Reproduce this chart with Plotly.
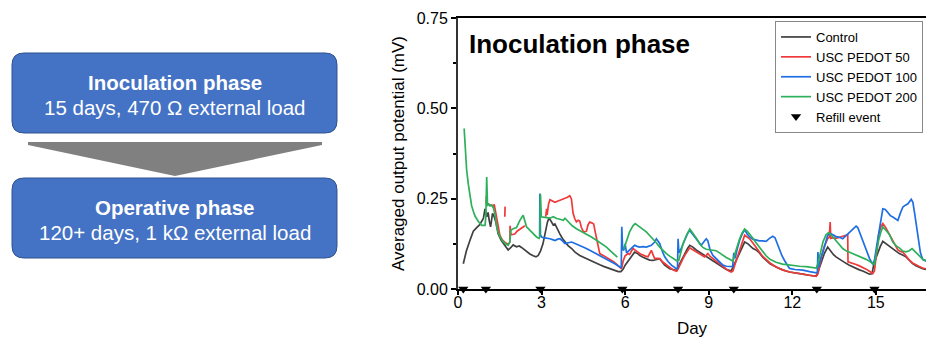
import plotly.graph_objects as go

# ---------------- data ----------------
control_day = [0.19,0.30,0.43,0.55,0.67,0.78,0.91,0.97,1.03,1.08,1.12,1.17,1.24,1.30,1.36,1.44,1.55,1.62,1.70,1.80,1.90,1.98,2.10,2.20,2.28,2.40,2.50,2.58,2.70,2.80,2.88,2.96,3.05,3.12,3.21,3.27,3.33,3.42,3.48,3.54,3.66,3.75,3.84,3.95,4.08,4.20,4.37,4.55,4.73,4.90,5.09,5.25,5.45,5.60,5.75,5.85,5.93,6.00,6.16,6.34,6.45,6.52,6.64,6.76,6.88,7.00,7.12,7.24,7.33,7.42,7.60,7.75,7.86,7.96,8.05,8.14,8.24,8.32,8.43,8.55,8.67,8.80,8.91,9.05,9.15,9.27,9.39,9.51,9.63,9.81,9.93,10.02,10.11,10.20,10.29,10.41,10.50,10.59,10.70,10.82,10.94,11.06,11.20,11.42,11.65,11.90,12.15,12.38,12.60,12.80,12.88,12.96,13.04,13.15,13.27,13.33,13.39,13.48,13.57,13.70,13.81,13.93,14.05,14.17,14.29,14.41,14.53,14.65,14.77,14.86,14.92,15.00,15.07,15.16,15.25,15.34,15.43,15.52,15.61,15.72,15.84,15.96,16.08,16.20,16.32,16.44,16.56,16.68,16.80]
control_val = [0.070,0.105,0.135,0.160,0.170,0.178,0.195,0.222,0.200,0.212,0.190,0.172,0.209,0.200,0.185,0.153,0.135,0.128,0.118,0.108,0.115,0.122,0.117,0.119,0.115,0.107,0.102,0.097,0.092,0.089,0.093,0.105,0.125,0.153,0.185,0.197,0.190,0.177,0.180,0.170,0.152,0.140,0.130,0.120,0.112,0.102,0.093,0.086,0.079,0.073,0.067,0.062,0.057,0.052,0.048,0.048,0.055,0.066,0.084,0.102,0.098,0.093,0.088,0.084,0.080,0.079,0.082,0.084,0.075,0.066,0.056,0.052,0.051,0.070,0.085,0.098,0.112,0.121,0.116,0.108,0.102,0.095,0.090,0.085,0.079,0.072,0.066,0.060,0.054,0.050,0.070,0.085,0.098,0.115,0.130,0.125,0.118,0.112,0.108,0.100,0.088,0.079,0.070,0.061,0.053,0.047,0.043,0.041,0.038,0.036,0.038,0.055,0.070,0.098,0.116,0.110,0.102,0.095,0.089,0.082,0.075,0.071,0.066,0.061,0.056,0.053,0.050,0.046,0.041,0.042,0.066,0.085,0.102,0.118,0.132,0.127,0.121,0.116,0.112,0.105,0.098,0.094,0.089,0.080,0.070,0.064,0.059,0.056,0.054]

pedot50_day = [1.01,1.02,1.05,1.09,1.15,1.21,1.26,1.30,1.36,1.44,1.50,1.57,1.60,1.70,1.80,1.85,None,1.68,1.69,None,1.86,1.87,1.90,1.98,2.04,2.12,2.22,2.34,2.40,None,3.15,3.18,3.20,3.25,3.30,3.39,3.48,3.57,3.66,3.75,3.84,3.93,4.01,4.07,4.13,4.19,4.25,4.31,4.37,4.43,4.49,4.55,4.61,4.67,4.73,4.80,4.87,4.92,4.97,5.03,5.09,5.21,5.33,5.45,5.57,5.69,5.80,5.87,5.93,6.00,6.10,6.16,6.28,6.37,6.46,6.55,6.64,6.73,6.82,6.88,6.94,7.00,7.06,7.15,7.24,7.33,7.42,7.54,7.66,7.75,7.84,7.90,7.96,8.05,8.14,8.24,8.32,8.40,8.49,8.58,8.67,8.76,8.85,8.91,8.97,9.05,9.15,9.27,9.39,9.51,9.63,9.72,9.81,9.87,9.93,9.99,10.08,10.17,10.24,10.29,10.38,10.47,10.58,10.70,10.82,10.94,11.06,11.20,11.42,11.65,11.90,12.15,12.38,12.60,12.86,12.92,13.00,13.08,13.15,13.27,13.33,13.36,13.38,13.45,13.57,13.69,13.81,13.90,13.99,14.00,14.05,14.17,14.29,14.41,14.53,14.65,14.77,14.89,14.95,15.02,15.10,15.18,15.25,15.34,15.43,15.52,15.61,15.70,15.79,15.88,15.97,16.08,16.20,16.32,16.44,16.56,16.68,16.80]
pedot50_val = [0.235,0.257,0.236,0.236,0.232,0.232,0.228,0.234,0.209,0.172,0.150,0.139,0.135,0.128,0.124,0.128,None,0.200,0.228,None,0.128,0.175,0.150,0.150,0.152,0.160,0.165,0.172,0.175,None,0.200,0.222,0.205,0.235,0.247,0.243,0.240,0.243,0.245,0.248,0.251,0.254,0.258,0.250,0.210,0.195,0.186,0.190,0.188,0.170,0.160,0.158,0.160,0.178,0.185,0.183,0.180,0.160,0.140,0.115,0.098,0.093,0.088,0.083,0.076,0.069,0.060,0.056,0.078,0.092,0.098,0.096,0.112,0.106,0.102,0.097,0.093,0.091,0.089,0.098,0.107,0.095,0.084,0.085,0.084,0.076,0.070,0.062,0.056,0.052,0.049,0.055,0.066,0.080,0.093,0.105,0.114,0.110,0.106,0.102,0.098,0.093,0.089,0.093,0.098,0.090,0.084,0.077,0.070,0.061,0.054,0.050,0.047,0.050,0.065,0.079,0.098,0.116,0.135,0.149,0.144,0.139,0.128,0.116,0.104,0.090,0.082,0.072,0.061,0.053,0.047,0.044,0.042,0.040,0.035,0.042,0.075,0.100,0.118,0.139,0.144,0.185,0.140,0.142,0.140,0.144,0.146,0.148,0.150,0.075,0.074,0.072,0.068,0.064,0.060,0.055,0.049,0.043,0.050,0.100,0.150,0.172,0.181,0.172,0.160,0.148,0.136,0.120,0.108,0.104,0.102,0.092,0.080,0.072,0.066,0.062,0.058,0.056]

pedot100_day = [2.93,2.94,2.96,3.00,3.06,3.18,3.30,3.42,3.48,3.58,3.66,3.75,3.84,3.96,4.08,4.20,4.37,4.55,4.73,4.91,5.09,5.27,5.45,5.63,5.81,5.86,5.88,5.91,5.95,6.00,6.05,6.16,6.34,6.43,6.52,6.64,6.76,6.94,7.06,7.12,7.20,7.24,7.33,7.42,7.54,7.66,7.84,7.88,7.90,7.93,8.00,8.14,8.25,8.32,8.40,8.49,8.61,8.73,8.82,8.91,8.97,9.05,9.15,9.27,9.39,9.51,9.63,9.81,9.86,9.90,9.95,10.02,10.11,10.20,10.29,10.38,10.47,10.58,10.70,10.82,10.94,11.06,11.18,11.30,11.38,11.46,11.54,11.63,11.72,11.81,11.90,12.10,12.38,12.62,12.86,12.90,12.92,12.95,13.02,13.10,13.18,13.27,13.39,13.48,13.57,13.69,13.81,13.93,14.05,14.17,14.29,14.35,14.41,14.53,14.65,14.77,14.89,14.95,15.07,15.16,15.25,15.34,15.43,15.52,15.61,15.72,15.79,15.88,15.97,16.06,16.15,16.27,16.33,16.40,16.51,16.60,16.68,16.80]
pedot100_val = [0.145,0.264,0.150,0.144,0.142,0.141,0.139,0.136,0.134,0.138,0.139,0.133,0.126,0.128,0.130,0.126,0.121,0.114,0.107,0.100,0.093,0.086,0.079,0.070,0.061,0.060,0.172,0.110,0.107,0.125,0.100,0.108,0.121,0.118,0.116,0.117,0.116,0.121,0.130,0.139,0.132,0.126,0.105,0.089,0.076,0.066,0.056,0.058,0.139,0.100,0.110,0.135,0.155,0.162,0.154,0.144,0.130,0.121,0.130,0.139,0.133,0.108,0.093,0.084,0.076,0.066,0.063,0.061,0.062,0.100,0.085,0.110,0.135,0.152,0.164,0.152,0.144,0.138,0.135,0.133,0.133,0.132,0.140,0.146,0.142,0.125,0.107,0.092,0.079,0.066,0.057,0.054,0.052,0.048,0.045,0.048,0.102,0.060,0.085,0.102,0.128,0.149,0.153,0.149,0.145,0.143,0.139,0.148,0.157,0.166,0.174,0.170,0.158,0.132,0.107,0.085,0.068,0.080,0.139,0.185,0.222,0.220,0.210,0.203,0.199,0.192,0.190,0.210,0.227,0.232,0.236,0.248,0.240,0.205,0.139,0.100,0.082,0.077]

pedot200_day = [0.22,0.27,0.31,0.37,0.43,0.49,0.55,0.61,0.73,0.85,0.97,1.00,1.03,1.06,1.09,1.15,1.21,1.27,1.33,1.39,1.45,1.51,1.60,1.69,1.80,1.86,1.89,1.98,2.10,2.22,2.34,2.40,2.46,2.55,2.64,2.73,2.82,2.91,2.94,2.96,2.99,3.06,3.18,3.30,3.42,3.54,3.66,3.78,3.84,3.96,4.10,4.25,4.43,4.61,4.79,4.97,5.15,5.33,5.51,5.69,5.72,None,5.95,6.05,6.16,6.28,6.36,6.52,6.64,6.76,6.88,7.00,7.12,7.24,7.36,7.48,7.60,7.72,7.85,7.93,8.00,8.08,8.20,8.32,8.40,8.49,8.58,8.67,8.79,8.91,9.03,9.15,9.27,9.39,9.51,9.63,9.75,9.87,9.93,10.02,10.11,10.20,10.29,10.38,10.47,10.58,10.70,10.82,10.94,11.06,11.20,11.42,11.65,11.90,12.10,12.26,12.50,12.70,12.86,12.92,13.00,13.10,13.21,13.30,13.39,13.48,13.57,13.69,13.81,13.93,14.05,14.17,14.29,14.41,14.53,14.65,14.77,14.89,14.95,15.02,15.10,15.18,15.25,15.37,15.49,15.61,15.72,15.84,15.97,16.08,16.20,16.30,16.40,16.50,16.60,16.70,16.80]
pedot200_val = [0.444,0.380,0.330,0.290,0.255,0.230,0.215,0.202,0.187,0.176,0.176,0.200,0.310,0.230,0.236,0.230,0.232,0.225,0.205,0.172,0.155,0.144,0.133,0.126,0.121,0.130,0.162,0.167,0.170,0.190,0.204,0.190,0.172,0.165,0.158,0.150,0.144,0.140,0.145,0.262,0.200,0.199,0.198,0.196,0.200,0.195,0.193,0.190,0.196,0.185,0.175,0.167,0.160,0.153,0.144,0.135,0.125,0.116,0.103,0.090,0.088,None,0.110,0.135,0.158,0.175,0.181,0.172,0.165,0.158,0.148,0.139,0.128,0.116,0.106,0.098,0.091,0.084,0.078,0.080,0.100,0.126,0.148,0.166,0.158,0.149,0.138,0.126,0.115,0.110,0.108,0.107,0.106,0.100,0.093,0.087,0.082,0.077,0.095,0.120,0.139,0.155,0.166,0.160,0.152,0.141,0.128,0.115,0.105,0.092,0.082,0.074,0.069,0.066,0.065,0.063,0.062,0.060,0.058,0.070,0.100,0.130,0.150,0.156,0.150,0.142,0.135,0.122,0.112,0.106,0.102,0.098,0.095,0.092,0.087,0.082,0.077,0.072,0.068,0.100,0.135,0.158,0.172,0.162,0.150,0.130,0.120,0.114,0.105,0.103,0.106,0.112,0.104,0.094,0.086,0.081,0.079]

refill_day = [0.19, 1.0, 2.96, 5.9, 7.9, 9.9, 12.88, 14.95]
refill_val = [0, 0, 0, 0, 0, 0, 0, 0]

series_names = ["Control", "USC PEDOT 50", "USC PEDOT 100", "USC PEDOT 200"]
series_colors = ["#404040", "#F03A3A", "#1F6FE3", "#2DB05A"]

x_ticks = [0, 3, 6, 9, 12, 15]
y_ticks = [0.0, 0.25, 0.5, 0.75]

flow_boxes = [
    ("Inoculation phase", "15 days, 470 Ω external load"),
    ("Operative phase", "120+ days, 1 kΩ external load"),
]

# ---------------- layout geometry (pixels) ----------------
W, H = 926, 340
PL, PR, PT, PB = 458, 926, 18, 289
FONT = "Liberation Sans, Arial, sans-serif"


def px(x):
    return (x - PL) / (PR - PL)


def py(y):
    return (PB - y) / (PB - PT)


def rounded_rect(x0, y0, x1, y1, r):
    pts = [
        ("M", (x0 + r, y0)), ("L", (x1 - r, y0)), ("Q", (x1, y0), (x1, y0 + r)),
        ("L", (x1, y1 - r)), ("Q", (x1, y1), (x1 - r, y1)),
        ("L", (x0 + r, y1)), ("Q", (x0, y1), (x0, y1 - r)),
        ("L", (x0, y0 + r)), ("Q", (x0, y0), (x0 + r, y0)),
    ]
    s = ""
    for p in pts:
        cmd = p[0]
        coords = " ".join(f"{px(a):.5f},{py(b):.5f}" for a, b in p[1:])
        s += f"{cmd} {coords} "
    return s + "Z"


fig = go.Figure()

all_days = [control_day, pedot50_day, pedot100_day, pedot200_day]
all_vals = [control_val, pedot50_val, pedot100_val, pedot200_val]
for name, color, d, v in zip(series_names, series_colors, all_days, all_vals):
    fig.add_trace(go.Scatter(x=d, y=v, mode="lines", name=name,
                             line=dict(color=color, width=1.7),
                             connectgaps=False))

fig.add_trace(go.Scatter(x=refill_day, y=refill_val, mode="markers", name="Refill event",
                         marker=dict(symbol="triangle-down", size=9, color="black"),
                         cliponaxis=False))

shapes = []
annotations = []

# flow diagram boxes
box_rects = [(12, 53, 337, 133), (12, 178, 337, 258)]
for (x0, y0, x1, y1), (title, sub) in zip(box_rects, flow_boxes):
    shapes.append(dict(type="path", xref="paper", yref="paper",
                       path=rounded_rect(x0, y0, x1, y1, 12),
                       fillcolor="#4472C4", line=dict(color="#2F528F", width=1)))
    cx = (x0 + x1) / 2
    annotations.append(dict(x=px(cx), y=py(y0 + 29), xref="paper", yref="paper",
                            text=f"<b>{title}</b>", showarrow=False,
                            xanchor="center", yanchor="middle",
                            font=dict(family=FONT, size=20.5, color="white")))
    annotations.append(dict(x=px(cx), y=py(y0 + 54), xref="paper", yref="paper",
                            text=sub, showarrow=False,
                            xanchor="center", yanchor="middle",
                            font=dict(family=FONT, size=20.5, color="white")))

# chevron arrow between boxes
shapes.append(dict(type="path", xref="paper", yref="paper",
                   path=f"M {px(28):.5f},{py(142):.5f} L {px(322):.5f},{py(142):.5f} "
                        f"L {px(322):.5f},{py(145):.5f} L {px(175):.5f},{py(176):.5f} "
                        f"L {px(28):.5f},{py(145):.5f} Z",
                   fillcolor="#808080", line=dict(width=0)))

# in-plot title
annotations.append(dict(x=px(467), y=py(44), xref="paper", yref="paper",
                        text="<b>Inoculation phase</b>", showarrow=False,
                        xanchor="left", yanchor="middle",
                        font=dict(family=FONT, size=26, color="black")))

fig.update_layout(
    width=W, height=H,
    margin=dict(l=PL, r=W - PR, t=PT, b=H - PB, pad=0),
    paper_bgcolor="white", plot_bgcolor="white",
    font=dict(family=FONT, color="black"),
    shapes=shapes, annotations=annotations,
    legend=dict(x=px(923), y=py(21), xanchor="right", yanchor="top",
                bgcolor="white", bordercolor="#888888", borderwidth=1,
                font=dict(family=FONT, size=13, color="black"),
                itemwidth=30, tracegroupgap=0),
    showlegend=True,
)

fig.update_xaxes(range=[0, 16.8], tickvals=x_ticks, ticktext=[str(t) for t in x_ticks],
                 ticks="outside", ticklen=4, tickwidth=1.5, tickcolor="black",
                 ticklabelstandoff=-6,
                 showline=True, linecolor="black", linewidth=1.5, mirror=True,
                 showgrid=False, zeroline=False,
                 tickfont=dict(family=FONT, size=16, color="black"),
                 title=dict(text="Day", font=dict(family=FONT, size=17, color="black"), standoff=12))

fig.update_yaxes(range=[0, 0.75], tickvals=y_ticks, ticktext=[f"{t:.2f}" for t in y_ticks],
                 ticks="outside", ticklen=5, tickwidth=1.5, tickcolor="black",
                 minor=dict(tickvals=[0.125, 0.375, 0.625], ticks="outside", ticklen=3, tickcolor="black"),
                 showline=True, linecolor="#333333", linewidth=2,
                 showgrid=False, zeroline=False,
                 tickfont=dict(family=FONT, size=16, color="black"),
                 title=dict(text="Averaged output potential (mV)",
                            font=dict(family=FONT, size=17, color="black"), standoff=8))

fig.write_html("out.html", config={"displayModeBar": False},
               post_script="document.body.style.margin='0px';")
